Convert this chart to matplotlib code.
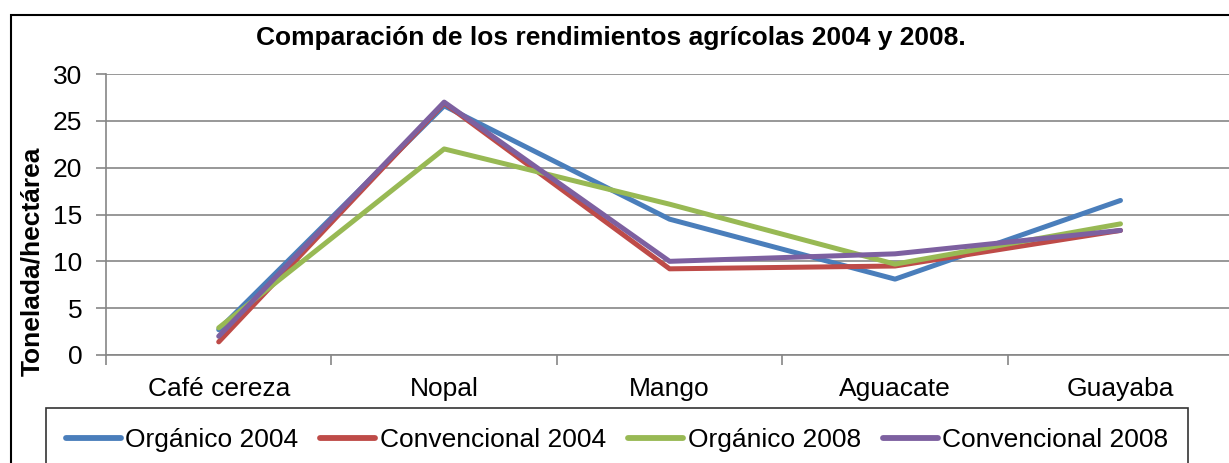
import matplotlib
matplotlib.use("Agg")
import matplotlib.pyplot as plt
from matplotlib.patches import Rectangle

plt.rcParams['font.family'] = ['Liberation Sans', 'DejaVu Sans']

categories = ["Café cereza", "Nopal", "Mango", "Aguacate", "Guayaba"]
organico_2004 = [2.7, 26.6, 14.5, 8.1, 16.5]
convencional_2004 = [1.4, 26.9, 9.2, 9.5, 13.3]
organico_2008 = [2.9, 22.0, 16.1, 9.7, 14.0]
convencional_2008 = [2.0, 27.0, 10.0, 10.8, 13.3]
series_names = ["Orgánico 2004", "Convencional 2004", "Orgánico 2008", "Convencional 2008"]
colors = ["#4A7EBB", "#BE4B48", "#98B954", "#7D60A0"]
yticks = [0, 5, 10, 15, 20, 25, 30]

W, H = 1229, 463
fig = plt.figure(figsize=(W/100, H/100), dpi=100)

# outer frame
fig.patches.append(Rectangle((11/W, -0.1), 1.2, (H-15)/H + 0.1, transform=fig.transFigure,
                             fill=False, edgecolor='black', linewidth=1.5))

ax_w = (W - 106) / W + 0.01
ax = fig.add_axes([106/W, 1-355/H, ax_w, (355-74)/H])
x = list(range(len(categories)))
for vals, name, c in zip([organico_2004, convencional_2004, organico_2008, convencional_2008],
                         series_names, colors):
    ax.plot(x, vals, color=c, linewidth=3.6, label=name, solid_capstyle='round',
            solid_joinstyle='round')

ax.set_xlim(-0.5, 4.5 + 8/223)
ax.set_ylim(0, 30)
ax.set_yticks(yticks)
ax.set_yticklabels([str(v) for v in yticks], fontsize=19)
ax.set_xticks(x)
ax.set_xticklabels(categories, fontsize=19)
ax.tick_params(axis='x', length=0, pad=16)
ax.set_xticks([i - 0.5 for i in range(len(categories) + 1)], minor=True)
ax.tick_params(axis='x', which='minor', length=7, color='#868686', width=1.2)
ax.tick_params(axis='y', length=7, color='#868686', width=1.2, pad=10)
ax.grid(axis='y', color='#868686', linewidth=1.2)
ax.set_axisbelow(True)
for s in ['top', 'right']:
    ax.spines[s].set_visible(False)
for s in ['left', 'bottom']:
    ax.spines[s].set_color('#868686')
    ax.spines[s].set_linewidth(1.2)

ax.set_ylabel("Tonelada/hectárea", fontsize=19, fontweight='bold')
ax.yaxis.set_label_coords((44 - 106) / (ax_w * W), (355 - 261.5) / 281)
fig.text(611/W, 1-38/H, "Comparación de los rendimientos agrícolas 2004 y 2008.",
         ha='center', va='center', fontsize=19, fontweight='bold')

leg = fig.legend(loc='upper left', bbox_to_anchor=(46/W, 1-408/H), ncol=4, fontsize=19,
                 frameon=True, fancybox=False, edgecolor='black', handlelength=2.08,
                 handletextpad=0.17, columnspacing=0.84, borderpad=0.75, borderaxespad=0)
leg.get_frame().set_linewidth(1.2)
for h in leg.get_lines():
    h.set_linewidth(4.2)

fig.savefig("out.png", dpi=100)
